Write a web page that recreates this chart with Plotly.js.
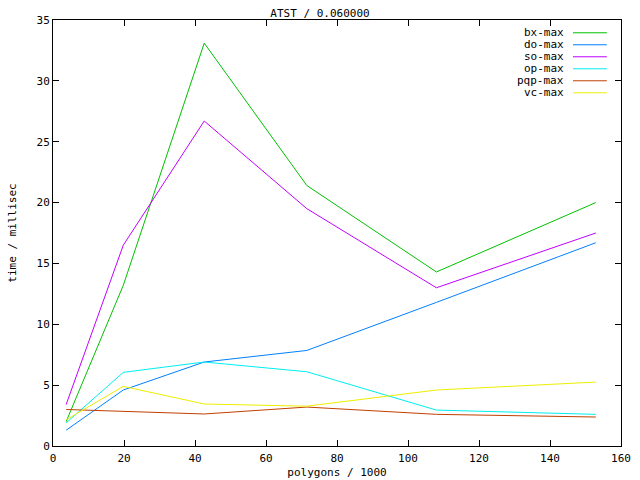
<!DOCTYPE html>
<html>
<head>
<meta charset="utf-8">
<script src="https://cdn.plot.ly/plotly-3.0.1.min.js"></script>
<style>html,body{margin:0;padding:0;background:#fff;}</style>
</head>
<body>
<div id="chart" style="width:640px;height:480px;"></div>
<script>
var polygons = [3.7, 19.8, 42.6, 71.5, 108, 152.9];
var bxMax  = [2.0, 13.2, 33.1, 21.4, 14.3, 20.0];
var doMax  = [1.3, 4.6, 6.9, 7.85, 11.8, 16.7];
var soMax  = [3.4, 16.5, 26.7, 19.5, 13.0, 17.5];
var opMax  = [1.9, 6.05, 6.9, 6.1, 2.95, 2.6];
var pqpMax = [3.0, 2.85, 2.63, 3.2, 2.6, 2.38];
var vcMax  = [2.15, 4.9, 3.45, 3.27, 4.6, 5.25];

var seriesNames = ["bx-max", "do-max", "so-max", "op-max", "pqp-max", "vc-max"];
var seriesData = [bxMax, doMax, soMax, opMax, pqpMax, vcMax];
var seriesColors = ["#00c000", "#0080ff", "#c000ff", "#00eeee", "#c04000", "#eeee00"];

var FONT = "DejaVu Sans Mono, monospace";

var traces = seriesNames.map(function (n, i) {
  return {
    x: polygons, y: seriesData[i], name: n, type: "scatter", mode: "lines",
    line: {color: seriesColors[i], width: 1},
    showlegend: false
  };
});

var annotations = [];
var shapes = [];
var top0 = 0.970, step = 12 / 426;
seriesNames.forEach(function (n, i) {
  var yy = top0 - i * step;
  annotations.push({
    xref: "paper", yref: "paper", x: 0.904, y: yy, xanchor: "right", yanchor: "middle",
    text: n, showarrow: false, font: {family: FONT, size: 11, color: "#000"}
  });
  shapes.push({
    type: "line", xref: "paper", yref: "paper", x0: 0.9155, x1: 0.975, y0: yy, y1: yy,
    line: {color: seriesColors[i], width: 1}
  });
});

var axisCommon = {
  showgrid: false, zeroline: false, showline: true, linecolor: "#000", linewidth: 1,
  mirror: "ticks", ticks: "inside", ticklen: 6, tickcolor: "#000", tickwidth: 1,
  tickfont: {family: FONT, size: 11, color: "#000"}
};

var layout = {
  width: 640, height: 480,
  margin: {l: 53, r: 19, t: 20, b: 34},
  paper_bgcolor: "#fff", plot_bgcolor: "#fff",
  title: {text: "ATST / 0.060000", font: {family: FONT, size: 11, color: "#000"},
          x: 0.5, xanchor: "center", y: 0.973, yanchor: "middle"},
  xaxis: Object.assign({}, axisCommon, {
    range: [0, 160], dtick: 20, tick0: 0, ticklabelstandoff: 2,
    title: {text: "polygons / 1000", font: {family: FONT, size: 11, color: "#000"}, standoff: 4}
  }),
  yaxis: Object.assign({}, axisCommon, {
    range: [0, 35], dtick: 5, tick0: 0,
    title: {text: "time / millisec", font: {family: FONT, size: 11, color: "#000"}, standoff: 17}
  }),
  annotations: annotations,
  shapes: shapes
};

Plotly.newPlot("chart", traces, layout, {displayModeBar: false, staticPlot: true});
</script>
</body>
</html>
